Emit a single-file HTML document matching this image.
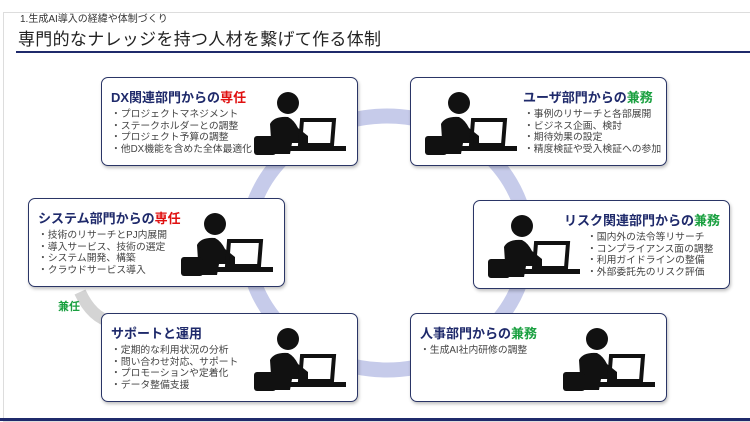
<!DOCTYPE html>
<html><head><meta charset="utf-8"><style>
*{margin:0;padding:0;box-sizing:border-box}
body{width:750px;height:422px;background:#fff;position:relative;overflow:hidden;font-family:"Liberation Sans","Noto Sans CJK JP",sans-serif}
.frame{position:absolute;left:3px;top:12px;width:760px;height:410px;border:1px solid #ddd}
.sub{position:absolute;left:20px;top:14px;font-size:10px;line-height:12px;color:#333}
.title{position:absolute;left:18px;top:29px;font-size:17px;line-height:21px;color:#222;letter-spacing:0.3px}
.tline{position:absolute;left:16px;top:51px;width:734px;height:2px;background:#1f2a6b}
.bline{position:absolute;left:0;top:418px;width:750px;height:3px;background:#1f2a6b}
.box{position:absolute;width:257px;height:89px;border:1.5px solid #2a3566;border-radius:7px;background:#fff;box-shadow:1px 2px 3px rgba(0,0,0,.25)}
.box h3{position:absolute;font-size:13px;color:#1f2a6b;font-weight:bold;white-space:nowrap}
.box ul{position:absolute;list-style:none;font-size:9.8px;color:#444;line-height:11.5px;white-space:nowrap}
.red{color:#e01010}.grn{color:#1aa040}
.box svg{position:absolute;width:100px;height:70px}
</style></head><body>
<div class="frame"></div>
<svg width="750" height="422" style="position:absolute;left:0;top:0">
<ellipse cx="387" cy="243" rx="140" ry="127" fill="none" stroke="#c6cbea" stroke-width="15"/>
<path d="M80 292 Q92 318 112 322" fill="none" stroke="#d4d4d4" stroke-width="12"/>
</svg>
<div class="sub">1.生成AI導入の経緯や体制づくり</div>
<div class="title">専門的なナレッジを持つ人材を繋げて作る体制</div>
<div class="tline"></div>

<svg width="0" height="0" style="position:absolute"><defs><g id="p">
<circle cx="38" cy="13" r="11" fill="#111"/>
<path d="M20 34 Q24 26 38 27 Q44 30 48 38 L58 46 L58 53 L42 53 L40 64 L22 64 Z" fill="#111"/>
<rect x="4" y="46" width="22" height="19" rx="3" fill="#111"/>
<polygon points="52,30 84,30 82,55 50,55" fill="none" stroke="#111" stroke-width="4"/>
<rect x="40" y="56" width="56" height="5" fill="#111"/>
</g></defs></svg>

<div class="box" style="left:101px;top:77px"><h3 style="left:9px;top:9px">DX関連部門からの<span class="red">専任</span></h3>
<ul style="left:9px;top:31px"><li>・プロジェクトマネジメント</li><li>・ステークホルダーとの調整</li><li>・プロジェクト予算の調整</li><li>・他DX機能を含めた全体最適化</li></ul>
<svg viewBox="0 0 100 70" style="left:148px;top:12px"><use href="#p"/></svg></div>

<div class="box" style="left:410px;top:77px"><h3 style="left:112px;top:9px">ユーザ部門からの<span class="grn">兼務</span></h3>
<ul style="left:113px;top:31px"><li>・事例のリサーチと各部展開</li><li>・ビジネス企画、検討</li><li>・期待効果の設定</li><li>・精度検証や受入検証への参加</li></ul>
<svg viewBox="0 0 100 70" style="left:10px;top:12px"><use href="#p"/></svg></div>

<div class="box" style="left:28px;top:198px"><h3 style="left:9px;top:9px">システム部門からの<span class="red">専任</span></h3>
<ul style="left:9px;top:31px"><li>・技術のリサーチとPJ内展開</li><li>・導入サービス、技術の選定</li><li>・システム開発、構築</li><li>・クラウドサービス導入</li></ul>
<svg viewBox="0 0 100 70" style="left:148px;top:12px"><use href="#p"/></svg></div>

<div class="box" style="left:473px;top:200px"><h3 style="left:90px;top:9px">リスク関連部門からの<span class="grn">兼務</span></h3>
<ul style="left:113px;top:31px"><li>・国内外の法令等リサーチ</li><li>・コンプライアンス面の調整</li><li>・利用ガイドラインの整備</li><li>・外部委託先のリスク評価</li></ul>
<svg viewBox="0 0 100 70" style="left:10px;top:12px"><use href="#p"/></svg></div>

<div style="position:absolute;left:58px;top:298px;font-size:11px;font-weight:bold;color:#1aa040">兼任</div>

<div class="box" style="left:101px;top:313px"><h3 style="left:9px;top:9px">サポートと運用</h3>
<ul style="left:9px;top:31px"><li>・定期的な利用状況の分析</li><li>・問い合わせ対応、サポート</li><li>・プロモーションや定着化</li><li>・データ整備支援</li></ul>
<svg viewBox="0 0 100 70" style="left:148px;top:12px"><use href="#p"/></svg></div>

<div class="box" style="left:410px;top:313px"><h3 style="left:9px;top:9px">人事部門からの<span class="grn">兼務</span></h3>
<ul style="left:9px;top:31px"><li>・生成AI社内研修の調整</li></ul>
<svg viewBox="0 0 100 70" style="left:148px;top:12px"><use href="#p"/></svg></div>

<div class="bline"></div>
</body></html>
